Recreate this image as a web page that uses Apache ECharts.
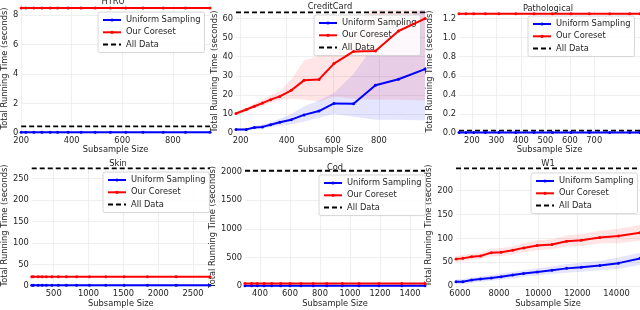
<!DOCTYPE html>
<html><head><meta charset="utf-8">
<script src="https://cdn.jsdelivr.net/npm/echarts@6/dist/echarts.min.js"></script>
<style>html,body{margin:0;padding:0;background:#fff}#c{width:640px;height:310px}</style>
</head><body><div id="c"></div>
<script>
// ---------- data ----------
const titles = ['HTRU', 'CreditCard', 'Pathological', 'Skin', 'Cod', 'W1'];
const seriesNames = ['Uniform Sampling', 'Our Coreset', 'All Data'];
const xName = 'Subsample Size';
const yName = 'Total Running Time (seconds)';

const htruX    = [200, 218, 250, 282, 315, 344, 386, 437, 493, 553, 614, 682, 762, 850, 947];
const htruUni  = [0.05, 0.05, 0.05, 0.05, 0.05, 0.05, 0.05, 0.05, 0.05, 0.05, 0.05, 0.05, 0.05, 0.05, 0.05];
const htruCore = [8.5, 8.5, 8.5, 8.5, 8.5, 8.5, 8.5, 8.5, 8.5, 8.5, 8.5, 8.5, 8.5, 8.5, 8.5];

const ccX      = [180, 225, 260, 295, 330, 370, 420, 475, 540, 605, 690, 785, 885, 1000];
const ccUni    = [1.8, 1.9, 2.9, 3.2, 4.3, 5.6, 7.0, 9.5, 11.5, 15.5, 15.3, 25.0, 28.2, 33.5];
const ccUniLo  = [1.2, 1.3, 2.0, 2.3, 3.0, 3.8, 4.5, 6.0, 8.0, 10.0, 8.5, 7.0, 7.0, 6.5];
const ccUniHi  = [2.4, 2.6, 3.8, 4.3, 5.8, 7.5, 10.0, 14.0, 17.0, 21.0, 31.0, 47.0, 57.0, 66.0];
const ccCore   = [10.2, 12.3, 14.0, 15.7, 17.5, 19.2, 22.4, 27.6, 28.1, 36.4, 42.8, 43.0, 53.5, 60.0];
const ccCoreLo = [9.5, 11.3, 12.8, 14.2, 15.8, 17.0, 18.0, 17.5, 16.5, 19.0, 18.0, 17.5, 17.5, 17.0];
const ccCoreHi = [11.0, 13.3, 15.5, 17.5, 19.8, 22.0, 28.0, 38.0, 40.5, 43.0, 52.0, 68.0, 70.0, 72.0];

const pathX    = [147, 175, 207, 255, 310, 379, 454, 529, 605, 680, 763, 845, 887];
const pathUni  = [0.004, 0.004, 0.004, 0.004, 0.004, 0.004, 0.004, 0.004, 0.004, 0.004, 0.004, 0.004, 0.004];
const pathCore = [1.25, 1.25, 1.25, 1.25, 1.25, 1.25, 1.25, 1.25, 1.25, 1.25, 1.25, 1.25, 1.25];

const skinX    = [184, 207, 277, 333, 394, 472, 566, 682, 827, 1013, 1246, 1511, 1846, 2257, 2743];
const skinUni  = [1.5, 1.5, 1.5, 1.5, 1.5, 1.5, 1.5, 1.5, 1.5, 1.5, 1.5, 1.5, 1.5, 1.5, 1.5];
const skinCore = [21.5, 21.5, 21.5, 21.5, 21.5, 21.5, 21.5, 21.5, 21.5, 21.5, 21.5, 21.5, 21.5, 21.5, 21.5];

const codX     = [300, 344, 382, 427, 478, 538, 600, 673, 755, 845, 949, 1060, 1193, 1345, 1500];
const codUni   = [4, 4, 4, 4, 4, 4, 4, 4, 4, 4, 4, 4, 4, 4, 4];
const codCore  = [42, 42, 42, 42, 42, 42, 42, 42, 42, 42, 42, 42, 42, 42, 42];

const w1X      = [5800, 6150, 6600, 7050, 7600, 8100, 8700, 9250, 9950, 10700, 11450, 12200, 13150, 14100, 15200];
const w1Uni    = [9, 9, 12.5, 14.5, 17, 19.5, 23, 26, 29.5, 33, 37, 39.5, 43, 48, 58];
const w1UniLo  = [4, 4, 7, 9, 11, 13, 16, 19, 22, 25, 28, 30, 33, 36, 44];
const w1UniHi  = [14, 14, 18, 20, 23, 26, 30, 33, 37, 41, 46, 49, 53, 60, 70];
const w1Core   = [56.5, 58, 61.5, 63, 70, 71, 75, 80, 85, 87, 94, 96, 102, 105, 112];
const w1CoreLo = [50, 52, 55, 57, 62, 63, 66, 71, 75, 77, 83, 84, 89, 90, 95];
const w1CoreHi = [63, 65, 68, 70, 78, 79, 84, 90, 96, 98, 106, 109, 116, 120, 128];

const allData  = [0.45, 63.3, 0.025, 273, 2015, 247];

const xTicks = [
  [200, 400, 600, 800],
  [200, 400, 600, 800],
  [200, 300, 400, 500, 600, 700],
  [500, 1000, 1500, 2000, 2500],
  [400, 600, 800, 1000, 1200, 1400],
  [6000, 8000, 10000, 12000, 14000]
];
const yTicks = [
  [0, 2, 4, 6, 8],
  [0, 10, 20, 30, 40, 50, 60],
  [0, 0.2, 0.4, 0.6, 0.8, 1.0, 1.2],
  [0, 50, 100, 150, 200, 250],
  [0, 500, 1000, 1500, 2000],
  [0, 50, 100, 150, 200]
];
const xRange = [[200, 947], [180, 1000], [147, 887], [184, 2743], [300, 1500], [5800, 15200]];
const yRange = [[0, 8.77], [0, 64.5], [0, 1.29], [0, 281], [0, 2063], [0, 254]];

// ---------- layout / style ----------
const FONT = 'DejaVu Sans';
const TXT = '#262626';
const FS = 8.3;
const grids = [
  {left: 17,  top: 4,   width: 193, height: 129},
  {left: 236, top: 10,  width: 189, height: 123},
  {left: 459, top: 10,  width: 181, height: 123},
  {left: 27,  top: 165, width: 183, height: 121},
  {left: 245, top: 168, width: 180, height: 118},
  {left: 456, top: 165, width: 184, height: 121}
];
const yNameGap = [8, 10, 25, 19, 19, 20];
const xNameGap = [13, 13, 13, 14, 14, 14];
const titlePos = [[113, -3], [330, 2], [548, 3.5], [118, 159], [335, 163], [548, 159]];
const legendPos = [[98, 12], [314, 15], [528, 16], [103, 172], [319, 175], [531, 173]];

const panels = [
  {x: htruX, uni: htruUni, core: htruCore},
  {x: ccX, uni: ccUni, core: ccCore, uniLo: ccUniLo, uniHi: ccUniHi, coreLo: ccCoreLo, coreHi: ccCoreHi},
  {x: pathX, uni: pathUni, core: pathCore},
  {x: skinX, uni: skinUni, core: skinCore},
  {x: codX, uni: codUni, core: codCore},
  {x: w1X, uni: w1Uni, core: w1Core, uniLo: w1UniLo, uniHi: w1UniHi, coreLo: w1CoreLo, coreHi: w1CoreHi}
];

const zip = (xs, ys) => xs.map((v, i) => [v, ys[i]]);

const option = {
  animation: false,
  backgroundColor: '#ffffff',
  textStyle: {fontFamily: FONT},
  title: [], legend: [], grid: [], xAxis: [], yAxis: [], series: []
};

function bandSeries(i, xs, lo, hi, color) {
  return {
    type: 'custom', name: '_band', xAxisIndex: i, yAxisIndex: i, silent: true, z: 1,
    data: [[xs[0], lo[0]]],
    renderItem: (params, api) => {
      const pts = [];
      for (let k = 0; k < xs.length; k++) pts.push(api.coord([xs[k], hi[k]]));
      for (let k = xs.length - 1; k >= 0; k--) pts.push(api.coord([xs[k], lo[k]]));
      const cs = params.coordSys;
      return {
        type: 'group',
        clipPath: {type: 'rect', shape: {x: cs.x, y: cs.y, width: cs.width, height: cs.height}},
        children: [{type: 'polygon', shape: {points: pts}, style: {fill: color, stroke: null}}]
      };
    }
  };
}

panels.forEach((p, i) => {
  option.grid.push(Object.assign({containLabel: false}, grids[i]));
  option.title.push({
    text: titles[i], left: titlePos[i][0], top: titlePos[i][1], textAlign: 'center', padding: 0,
    textStyle: {fontFamily: FONT, fontSize: FS, fontWeight: 'normal', color: TXT, lineHeight: 10}
  });
  option.legend.push({
    data: seriesNames, orient: 'vertical', left: legendPos[i][0], top: legendPos[i][1],
    itemWidth: 18, itemHeight: 4, itemGap: 2.3, selectedMode: false,
    padding: [3, 4, 3, 4], backgroundColor: 'rgba(255,255,255,0.85)',
    borderColor: '#cccccc', borderWidth: 0.8, borderRadius: 2,
    textStyle: {fontFamily: FONT, fontSize: FS, color: TXT, lineHeight: 10}
  });
  option.xAxis.push({
    type: 'value', gridIndex: i, min: xRange[i][0], max: xRange[i][1],
    name: xName, nameLocation: 'middle', nameGap: xNameGap[i],
    nameTextStyle: {fontFamily: FONT, fontSize: FS, color: TXT},
    axisLine: {show: false}, axisTick: {show: false, customValues: xTicks[i]},
    axisLabel: {customValues: xTicks[i], fontFamily: FONT, fontSize: FS, color: TXT, margin: 4,
      formatter: v => String(v)},
    splitLine: {show: true, lineStyle: {color: '#ebebeb', width: 0.8}}
  });
  option.yAxis.push({
    type: 'value', gridIndex: i, min: yRange[i][0], max: yRange[i][1],
    name: yName, nameLocation: 'middle', nameGap: yNameGap[i],
    nameTextStyle: {fontFamily: FONT, fontSize: FS, color: TXT},
    axisLine: {show: false}, axisTick: {show: false, customValues: yTicks[i]},
    axisLabel: {customValues: yTicks[i], fontFamily: FONT, fontSize: FS, color: TXT, margin: 3,
      formatter: i === 2 ? (v => v.toFixed(1)) : (v => String(v))},
    splitLine: {show: true, lineStyle: {color: '#ebebeb', width: 0.8}}
  });
  if (p.uniLo) {
    option.series.push(bandSeries(i, p.x, p.uniLo, p.uniHi, 'rgba(0,0,255,0.10)'));
    option.series.push(bandSeries(i, p.x, p.coreLo, p.coreHi, 'rgba(255,0,0,0.10)'));
  }
  option.series.push({
    type: 'line', name: seriesNames[2], xAxisIndex: i, yAxisIndex: i,
    data: p.x.map(v => [v, allData[i]]), symbol: 'none', z: 3,
    lineStyle: {color: '#000000', width: 1.8, type: [5, 3]}, itemStyle: {color: 'rgba(0,0,0,0)'}
  });
  option.series.push({
    type: 'line', name: seriesNames[0], xAxisIndex: i, yAxisIndex: i,
    data: zip(p.x, p.uni), symbol: 'circle', symbolSize: 3, z: 4,
    lineStyle: {color: '#0000ff', width: 2}, itemStyle: {color: '#0000ff'}
  });
  option.series.push({
    type: 'line', name: seriesNames[1], xAxisIndex: i, yAxisIndex: i,
    data: zip(p.x, p.core), symbol: 'circle', symbolSize: 3, z: 4,
    lineStyle: {color: '#ff0000', width: 2}, itemStyle: {color: '#ff0000'}
  });
});

const chart = echarts.init(document.getElementById('c'), null, {renderer: 'canvas'});
chart.setOption(option);
</script>
</body></html>
